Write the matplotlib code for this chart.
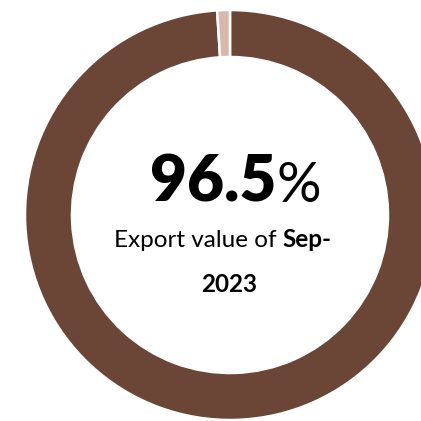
import matplotlib
matplotlib.use("Agg")
import matplotlib.pyplot as plt

# slice shares as drawn in the ring (main share, small remainder)
shares = [99.0, 1.0]
colors = ["#6B4536", "#D6B9AC"]
big_value = "96.5"
big_unit = "%"
caption_plain = "Export value of "
caption_bold = "Sep-"
caption_line2 = "2023"

W = H = 421
fig = plt.figure(figsize=(W / 100, H / 100), dpi=100)
ax = fig.add_axes([0, 0, 1, 1])

cx, cy = 230, H - 215
ax.pie(shares, colors=colors, radius=205, center=(cx, cy),
       startangle=90, counterclock=False,
       wedgeprops=dict(width=47, edgecolor="white", linewidth=1.8))
ax.set_xlim(0, W)
ax.set_ylim(0, H)
ax.set_aspect("equal")
ax.axis("off")

font = "Lato"


def centered_pair(parts, xc, y):
    # parts: list of (text, size, weight); laid out left to right, centered at xc
    renderer = fig.canvas.get_renderer()
    artists = []
    for txt, size, weight in parts:
        t = ax.text(0, y, txt, fontsize=size, fontweight=weight,
                    family=font, ha="left", va="baseline", color="black")
        artists.append(t)
    widths = [t.get_window_extent(renderer).width for t in artists]
    x = xc - sum(widths) / 2
    for t, w in zip(artists, widths):
        t.set_x(x)
        x += w


centered_pair([(big_value, 46, "heavy"), (big_unit, 40, "normal")], 236, H - 202)
centered_pair([(caption_plain, 17.5, "normal"), (caption_bold, 17.5, "bold")], 223, H - 247)
centered_pair([(caption_line2, 17.5, "bold")], 229.5, H - 292)

fig.savefig("out.png", dpi=100)
